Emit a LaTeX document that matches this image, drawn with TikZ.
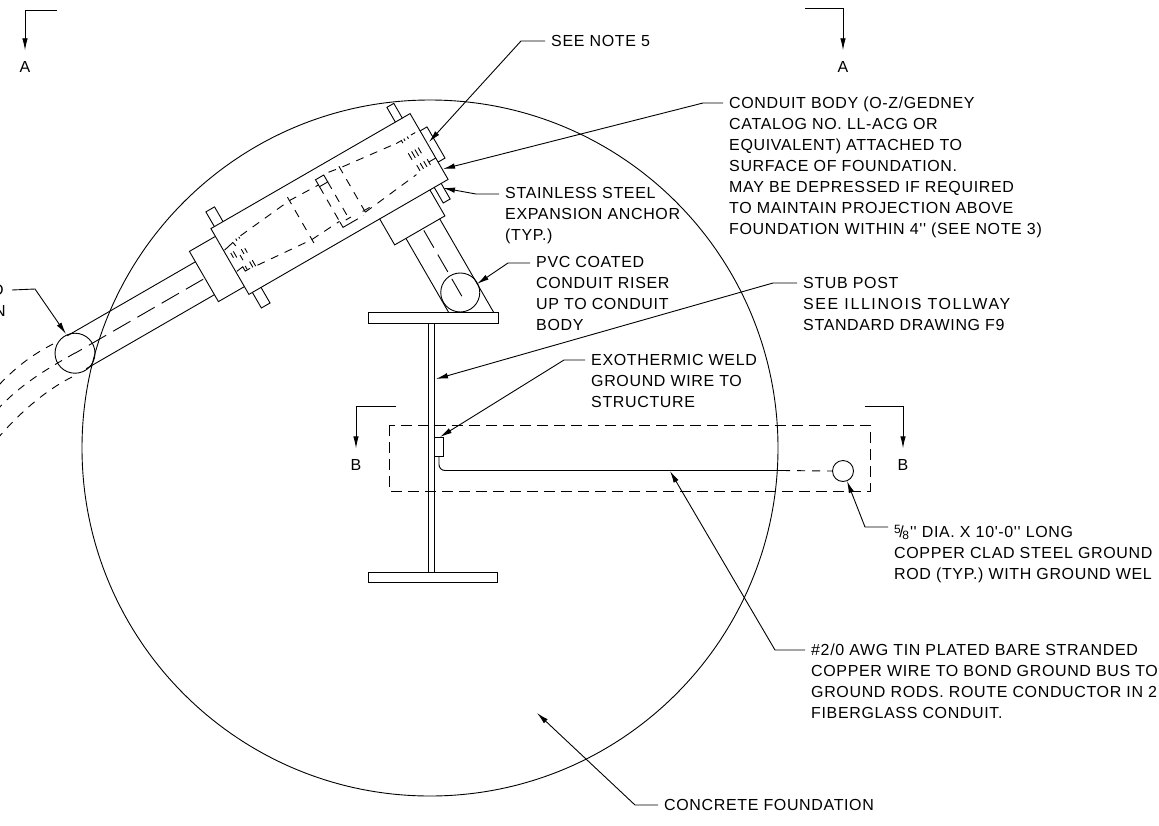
\documentclass[tikz,border=0pt]{standalone}
\usepackage{fontspec}
\newfontfamily\cadfont[LetterSpace=4]{Liberation Sans}
\usetikzlibrary{arrows.meta}
\newcommand{\fiveeighths}{\raisebox{4pt}{\fontsize{12}{12}\selectfont 5}\kern-1.5pt/\kern-1.5pt\raisebox{-2.5pt}{\fontsize{12}{12}\selectfont 8}\kern1pt}
\tikzset{
  notetext/.style={anchor=north west, inner sep=0pt, align=left, font=\cadfont\fontsize{16}{21}\selectfont},
  cuttext/.style={inner sep=0pt, font=\cadfont\fontsize{16}{21}\selectfont},
  leader/.style={-{Latex[length=12pt,width=5.5pt]}, line width=0.9pt},
  part/.style={line width=0.9pt},
  hidden/.style={line width=0.9pt, dash pattern=on 8pt off 7pt},
  longdash/.style={line width=0.9pt, dash pattern=on 20pt off 8pt},
  boxdash/.style={line width=0.9pt, dash pattern=on 11pt off 6pt},
}
\begin{document}
\begin{tikzpicture}[x=1pt, y=-1pt]
  \useasboundingbox (0,0) rectangle (1159,825);
  % Foundation
  \draw[part] (430,448) circle [radius=348pt];
  % Section marks
  \node[cuttext] (cutAleft) at (25,67) {A};
  \node[cuttext] (cutAright) at (843,67) {A};
  \node[cuttext] (cutBleft) at (356,465) {B};
  \node[cuttext] (cutBright) at (903,465) {B};
  \coordinate (beginAleft) at (57,10);
  \coordinate (beginAright) at (805,8);
  \coordinate (beginBleft) at (396,406);
  \coordinate (beginBright) at (865,406);
  \draw[leader] (beginAleft) -| ([yshift=11pt]cutAleft.north);
  \draw[leader] (beginAright) -| ([yshift=11pt]cutAright.north);
  \draw[leader] (beginBleft) -| ([yshift=11pt]cutBleft.north);
  \draw[leader] (beginBright) -| ([yshift=11pt]cutBright.north);
  % Stub post
  \draw[part] (368,312) rectangle (498,323);
  \draw[part] (368,572) rectangle (497,582);
  \draw[part] (428,323) -- (428,572);
  \draw[part] (434,323) -- (434,572);
  \draw[part] (434,437) rectangle (443,456);
  % Ground wire and rod
  \draw[boxdash] (389,425) rectangle (870,491);
  \node[circle, draw, line width=0.9pt, inner sep=0pt, minimum size=21pt] (groundrod) at (843,471) {};
  \draw[part, rounded corners=6pt] (439,456) -- (439,470.5) -- (782,470.5);
  \draw[hidden] (782,470.5) -- (groundrod.west);
  % Conduit body, all along its own axis
  \begin{scope}[shift={(329.5,204)}, rotate=30]
    \draw[part] (-115,-38) rectangle (115,38);
    \draw[part] (-115,-29) -- (-145,-29) -- (-145,29) -- (-115,29);
    \draw[part] (115,-18) -- (123,-18) -- (123,18) -- (115,18);
    % Studs
    \draw[part] (-111,-38) -- (-111,-55) -- (-101,-55) -- (-101,-38);
    \draw[part] (-111,38) -- (-111,56) -- (-101,56) -- (-101,38);
    \draw[part] (98,-38) -- (98,-55) -- (106,-55) -- (106,-38);
    \draw[part] (99,38) -- (99,56) -- (107,56) -- (107,38);
    % Conduit to the left
    \draw[part] (-145,-17) -- (-293,-17);
    \draw[part] (-145,21) -- (-293,21);
    \draw[longdash] (-147,2) -- (-295,2);
    \node[circle, draw, line width=0.9pt, inner sep=0pt, minimum size=40pt] (conduitend) at (-295,2) {};
    % Riser
    \draw[part] (36,38) -- (36,68) -- (94,68) -- (94,38);
    \draw[part] (49,68) -- (49,153);
    \draw[part] (88,68) -- (88,175.5);
    \draw[longdash] (68.5,70) -- (68.5,152);
    \node[circle, draw, line width=0.9pt, inner sep=0pt, minimum size=39pt] (riserend) at (69,142) {};
    % Hidden lines inside
    \draw[hidden] (-93,-17) -- (-33,-23) -- (0,-22);
    \draw[hidden] (-93,17) -- (-33,22) -- (0,20);
    \draw[hidden] (-33,-27) -- (-33,27);
    \draw[hidden] (0,-20) -- (0,21);
    \draw[hidden] (9.5,-20) -- (9.5,22);
    \draw[hidden] (27,-28) -- (27,28);
    \draw[hidden] (15,-28) -- (27,-26) -- (89,-19);
    \draw[hidden] (27,25) -- (90,18);
    \draw[part] (0,-20) -- (0,-28) -- (9.5,-28) -- (9.5,-20) -- cycle;
    \draw[part] (0,21) -- (0,27) -- (9,27);
    \draw[hidden] (9,27) -- (24,27);
    \draw[part] (6,22) -- (12,22);
    \draw[part] (25,23) -- (33,23);
    % Threads left
    \draw[part] (-114,-12.5) -- (-103,-15) -- (-102,-10.5);
    \draw[part] (-114,12) -- (-106.5,11) -- (-106.5,16) -- (-101,16);
    \foreach \tx/\ya/\yb in {-110/-7/-1.5, -107/-7/0, -103/-0.5/5.5, -99/-5/0.5, -95.5/-4/1, -98.5/-17/-14.5, -95/-17/-15, -98/10/16.5, -95/10/17, -104/11.5/15.5}
      \draw[part] (\tx,\ya) -- (\tx,\yb);
    % Threads right
    \draw[part] (88,-19) -- (94,-19) -- (94,-16);
    \draw[part] (105,-19) -- (110,-19);
    \draw[part] (107,13.3) -- (115,13.3);
    \foreach \tx/\ya/\yb in {93.6/-4.5/3, 97.4/-4.5/3, 101.2/-4.5/3, 105/-4.5/2, 95/10/16.5, 99/10/16.5, 103/10/16.5, 107/10/16.5, 97/-19.5/-17, 101/-19.5/-17}
      \draw[part] (\tx,\ya) -- (\tx,\yb);
  \end{scope}
  % Conduit running off the sheet
  \coordinate (curveupper) at (53,344);
  \coordinate (curvemiddle) at (75,353);
  \coordinate (curvelower) at (72,377);
  \draw[hidden] (curveupper) .. controls (30,356) and (15,368) .. (-2,386);
  \draw[hidden] (curvemiddle) .. controls (45,370) and (20,385) .. (-2,409);
  \draw[hidden] (curvelower) .. controls (48,389) and (22,410) .. (-2,438);
  % Notes
  \node[notetext] (seenote) at (551,35) {SEE NOTE 5};
  \node[notetext] (bodynote) at (729,97) {CONDUIT BODY (O-Z/GEDNEY\\CATALOG NO. LL-ACG OR\\EQUIVALENT) ATTACHED TO\\SURFACE OF FOUNDATION.\\MAY BE DEPRESSED IF REQUIRED\\TO MAINTAIN PROJECTION ABOVE\\FOUNDATION WITHIN 4'' (SEE NOTE 3)};
  \node[notetext] (anchornote) at (505,187) {STAINLESS STEEL\\EXPANSION ANCHOR\\(TYP.)};
  \node[notetext] (risernote) at (536,256) {PVC COATED\\CONDUIT RISER\\UP TO CONDUIT\\BODY};
  \node[notetext] (postnote) at (803,277) {STUB POST\\{\addfontfeature{LetterSpace=10}SEE ILLINOIS TOLLWAY}\\STANDARD DRAWING F9};
  \node[notetext] (weldnote) at (591,354) {EXOTHERMIC WELD\\GROUND WIRE TO\\STRUCTURE};
  \node[notetext] (rodnote) at (894,525) {\fiveeighths'' DIA. X 10'-0'' LONG\\COPPER CLAD STEEL GROUND\\ROD (TYP.) WITH GROUND WEL};
  \node[notetext] (wirenote) at (811,644) {\#2/0 AWG TIN PLATED BARE STRANDED\\COPPER WIRE TO BOND GROUND BUS TO\\GROUND RODS. ROUTE CONDUCTOR IN 2\\FIBERGLASS CONDUIT.};
  \node[notetext] (concretenote) at (664,799) {CONCRETE FOUNDATION};
  \node[cuttext, anchor=east] (cutoffD) at (4,290) {D};
  \node[cuttext, anchor=east] (cutoffN) at (6,311) {N};
  % Leader tips
  \coordinate (tipsee) at (429,142);
  \coordinate (tipbody) at (443,169);
  \coordinate (tipanchor) at (443,188);
  \coordinate (tipriser) at (477,284);
  \coordinate (tippost) at (436,379);
  \coordinate (tipweld) at (440,437);
  \coordinate (tiprod) at (847,481);
  \coordinate (tipwire) at (670,471);
  \coordinate (tipconcrete) at (537,713);
  \coordinate (tipconduit) at (66,334);
  % Leaders
  \draw[leader] ([shift={(-6pt,-6pt)}]seenote.north west) -- (521,41) -- (tipsee);
  \draw[leader] ([shift={(-6pt,-6pt)}]bodynote.north west) -- (703,103) -- (tipbody);
  \draw[leader] ([shift={(-6pt,-7pt)}]anchornote.north west) -- (476,194) -- (tipanchor);
  \draw[leader] ([shift={(-6pt,-7pt)}]risernote.north west) -- (508,263) -- (tipriser);
  \draw[leader] ([shift={(-6pt,-6pt)}]postnote.north west) -- (773,283) -- (tippost);
  \draw[leader] ([shift={(-6pt,-6pt)}]weldnote.north west) -- (564,360) -- (tipweld);
  \draw[leader] ([shift={(-6pt,-2pt)}]rodnote.north west) -- (865,527) -- (tiprod);
  \draw[leader] ([shift={(-6pt,-6pt)}]wirenote.north west) -- (775,650) -- (tipwire);
  \draw[leader] ([shift={(-6pt,-6pt)}]concretenote.north west) -- (635,805) -- (tipconcrete);
  \draw[leader] ([xshift=8pt]cutoffD.east) -- (35,289) -- (tipconduit);
\end{tikzpicture}
\end{document}
